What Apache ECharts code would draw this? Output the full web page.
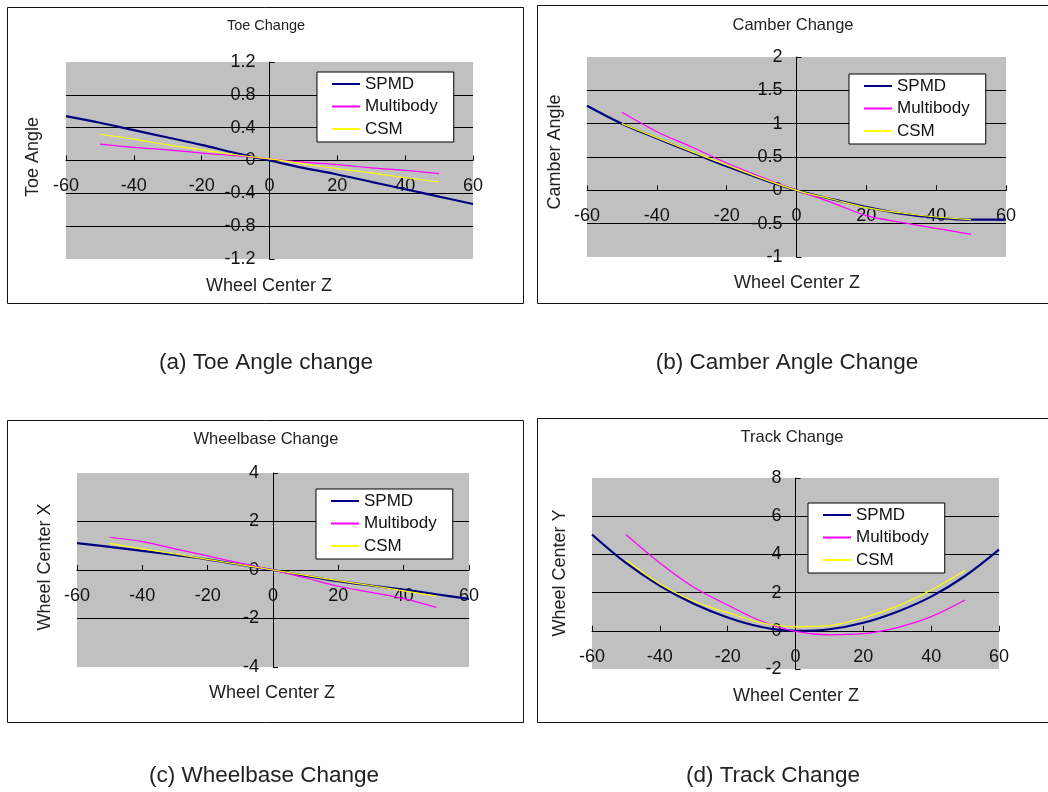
<!DOCTYPE html>
<html>
<head>
<meta charset="utf-8">
<title>Suspension kinematics comparison</title>
<script src="https://cdn.jsdelivr.net/npm/echarts@6/dist/echarts.min.js"></script>
<style>
  html, body { margin: 0; padding: 0; background: #ffffff; }
  #chart { width: 1048px; height: 792px; }
</style>
</head>
<body>
<div id="chart"></div>
<script>
// Wheel travel (Wheel Center Z) sample positions
const zFull = [-60, -50, -40, -30, -20, -10, 0, 10, 20, 30, 40, 50, 60];
const zShort = [-50, -40, -30, -20, -10, 0, 10, 20, 30, 40, 50];

const seriesNames = ['SPMD', 'Multibody', 'CSM'];

// (a) Toe angle
const toeSpmd = [0.54, 0.46, 0.37, 0.28, 0.19, 0.09, 0, -0.09, -0.17, -0.26, -0.35, -0.44, -0.53];
const toeMultibody = [0.20, 0.16, 0.13, 0.09, 0.06, 0.02, -0.02, -0.05, -0.09, -0.12, -0.16];
const toeCsm = [0.32, 0.26, 0.19, 0.13, 0.07, 0.02, -0.04, -0.10, -0.15, -0.21, -0.26];

// (b) Camber angle
const camberSpmd = [1.27, 1.0, 0.78, 0.57, 0.36, 0.17, 0, -0.13, -0.25, -0.35, -0.41, -0.44, -0.44];
const camberMultibody = [1.17, 0.88, 0.65, 0.41, 0.2, 0, -0.18, -0.38, -0.48, -0.57, -0.66];
const camberCsm = [1.0, 0.79, 0.58, 0.38, 0.18, 0, -0.13, -0.26, -0.34, -0.40, -0.44];

// (c) Wheelbase (Wheel Center X)
const wheelbaseSpmd = [1.11, 0.95, 0.79, 0.62, 0.44, 0.22, 0, -0.24, -0.46, -0.64, -0.81, -1.0, -1.19];
const wheelbaseMultibody = [1.35, 1.17, 0.87, 0.58, 0.28, 0, -0.33, -0.67, -0.92, -1.18, -1.54];
const wheelbaseCsm = [1.1, 0.87, 0.66, 0.44, 0.22, 0, -0.22, -0.44, -0.64, -0.86, -1.08];

// (d) Track (Wheel Center Y)
const trackSpmd = [5.04, 3.55, 2.36, 1.42, 0.7, 0.2, 0, 0.08, 0.42, 1.0, 1.79, 2.87, 4.25];
const trackMultibody = [5.04, 3.55, 2.28, 1.35, 0.5, -0.03, -0.21, -0.15, 0.17, 0.74, 1.61];
const trackCsm = [3.72, 2.45, 1.55, 0.95, 0.42, 0.21, 0.27, 0.68, 1.29, 2.14, 3.16];

// Axis ranges
const xRange = { min: -60, max: 60, interval: 20 };
const toeRange = { min: -1.2, max: 1.2, interval: 0.4 };
const camberRange = { min: -1, max: 2, interval: 0.5 };
const wheelbaseRange = { min: -4, max: 4, interval: 2 };
const trackRange = { min: -2, max: 8, interval: 2 };

// Texts
const chartTitles = ['Toe Change', 'Camber Change', 'Wheelbase Change', 'Track Change'];
const yNames = ['Toe Angle', 'Camber Angle', 'Wheel Center X', 'Wheel Center Y'];
const xName = 'Wheel Center Z';
const captions = ['(a) Toe Angle change', '(b) Camber Angle Change', '(c) Wheelbase Change', '(d) Track Change'];

const colors = { SPMD: '#000080', Multibody: '#ff00ff', CSM: '#ffff00' };
const FONT = '"Liberation Sans", Arial, sans-serif';

function pairs(xs, ys) { return xs.map((x, i) => [x, ys[i]]); }

const panels = [
  { values: [toeSpmd, toeMultibody, toeCsm], range: toeRange,
    frame: [7, 7, 516, 296], grid: [66, 62, 407, 197],
    title: [266, 26, 14.5], yName: [33, 157], xName: [269, 286],
    legend: [317, 72], caption: [266, 363] },
  { values: [camberSpmd, camberMultibody, camberCsm], range: camberRange,
    frame: [537, 5, 511, 298], grid: [587, 57, 419, 200],
    title: [793, 25, 16.5], yName: [555, 152], xName: [797, 283],
    legend: [849, 74], caption: [787, 363] },
  { values: [wheelbaseSpmd, wheelbaseMultibody, wheelbaseCsm], range: wheelbaseRange,
    frame: [7, 420, 516, 302], grid: [77, 473, 392, 194],
    title: [266, 439, 16.5], yName: [45, 567], xName: [272, 693],
    legend: [316, 489], caption: [264, 776] },
  { values: [trackSpmd, trackMultibody, trackCsm], range: trackRange,
    frame: [537, 418, 511, 304], grid: [592, 478, 407, 191],
    title: [792, 437, 16.5], yName: [560, 573], xName: [796, 696],
    legend: [808, 503], caption: [773, 776] }
];

const grids = [], xAxes = [], yAxes = [], series = [], legends = [], graphics = [];

panels.forEach((p, i) => {
  // panel frame
  graphics.push({
    type: 'rect', silent: true, z: 0,
    shape: { x: p.frame[0] + 0.5, y: p.frame[1] + 0.5, width: p.frame[2], height: p.frame[3] },
    style: { fill: null, stroke: '#111', lineWidth: 1 }
  });
  graphics.push({
    type: 'text', silent: true, x: p.title[0], y: p.title[1],
    style: { text: chartTitles[i], fontSize: p.title[2], fontFamily: FONT, fill: '#222',
             textAlign: 'center', textVerticalAlign: 'middle' }
  });
  graphics.push({
    type: 'text', silent: true, x: p.yName[0], y: p.yName[1], rotation: Math.PI / 2,
    style: { text: yNames[i], fontSize: 18, fontFamily: FONT, fill: '#222',
             textAlign: 'center', textVerticalAlign: 'middle' }
  });
  graphics.push({
    type: 'text', silent: true, x: p.xName[0], y: p.xName[1],
    style: { text: xName, fontSize: 18, fontFamily: FONT, fill: '#222',
             textAlign: 'center', textVerticalAlign: 'middle' }
  });
  graphics.push({
    type: 'text', silent: true, x: p.caption[0], y: p.caption[1],
    style: { text: captions[i], fontSize: 22.5, fontFamily: FONT, fill: '#222',
             textAlign: 'center', textVerticalAlign: 'middle' }
  });

  grids.push({
    left: p.grid[0], top: p.grid[1], width: p.grid[2], height: p.grid[3],
    show: true, backgroundColor: '#c0c0c0', borderWidth: 0
  });

  xAxes.push({
    type: 'value', gridIndex: i, position: 'bottom', offset: 0,
    min: xRange.min, max: xRange.max, interval: xRange.interval,
    axisLine: { show: true, onZero: false, lineStyle: { color: '#000', width: 1 } },
    axisTick: { show: true, inside: true, length: 5, lineStyle: { color: '#000' } },
    axisLabel: { margin: 17, fontSize: 18, fontFamily: FONT, color: '#111' },
    splitLine: { show: false }
  });

  yAxes.push({
    type: 'value', gridIndex: i, position: 'left', offset: 0,
    min: p.range.min, max: p.range.max, interval: p.range.interval,
    axisLine: { show: true, onZero: false, lineStyle: { color: '#000', width: 1 } },
    axisTick: { show: true, inside: true, length: 5, lineStyle: { color: '#000' } },
    axisLabel: { margin: 14, fontSize: 18, fontFamily: FONT, color: '#111' },
    splitLine: { show: true, showMinLine: false, showMaxLine: false,
                 lineStyle: { color: '#000', width: 1 } }
  });

  seriesNames.forEach((name, k) => {
    const xs = k === 0 ? zFull : zShort;
    series.push({
      type: 'line', name: name, xAxisIndex: i, yAxisIndex: i,
      data: pairs(xs, p.values[k]),
      color: colors[name],
      showSymbol: false, smooth: 0.35, silent: true,
      lineStyle: { width: k === 0 ? 2.2 : 1.2, color: colors[name] },
      z: 3 + k
    });
  });

  legends.push({
    left: p.legend[0], top: p.legend[1], orient: 'vertical',
    icon: 'rect', itemWidth: 28, itemHeight: 2, itemGap: 2.5,
    padding: [2, 16, 3, 15],
    backgroundColor: '#ffffff', borderColor: '#000', borderWidth: 1, borderRadius: 0,
    selectedMode: false,
    itemStyle: { borderWidth: 0 },
    textStyle: { fontSize: 17, lineHeight: 20, fontFamily: FONT, color: '#111' },
    data: seriesNames
  });
});

const chart = echarts.init(document.getElementById('chart'), null, { renderer: 'canvas' });
chart.setOption({
  animation: false,
  backgroundColor: '#ffffff',
  textStyle: { fontFamily: FONT },
  grid: grids,
  xAxis: xAxes,
  yAxis: yAxes,
  legend: legends,
  series: series,
  graphic: graphics
});

// Move both axes of every panel so they cross at the origin (0, 0),
// using the grid's own coordinate conversion.
const xOffsets = [], yOffsets = [];
panels.forEach((p, i) => {
  const origin = chart.convertToPixel({ gridIndex: i }, [0, 0]);
  const corner = chart.convertToPixel({ gridIndex: i }, [xRange.min, p.range.min]);
  xOffsets.push({ offset: -(corner[1] - origin[1]) });
  yOffsets.push({ offset: -(origin[0] - corner[0]) });
});
chart.setOption({ xAxis: xOffsets, yAxis: yOffsets });
</script>
</body>
</html>
